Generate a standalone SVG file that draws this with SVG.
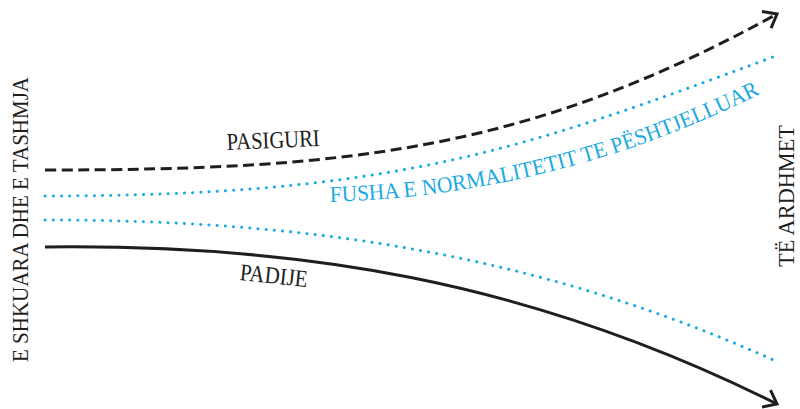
<svg xmlns="http://www.w3.org/2000/svg" width="800" height="409" viewBox="0 0 800 409">
  <defs>
    <style>
      .blk { fill: none; stroke: #1e1e1e; stroke-width: 3; }
      .dash { stroke-dasharray: 11 5.5; }
      .dot { fill: none; stroke: #1aa9e2; stroke-width: 3; stroke-linecap: round; stroke-dasharray: 0.1 8.1; }
      .lbl { font-family: "Liberation Serif", "Times New Roman", serif; font-size: 24px; fill: #1e1e1e; }
      .blue { font-family: "Liberation Serif", "Times New Roman", serif; font-size: 22.5px; fill: #1aa9e2; }
    </style>
    <marker id="arrow" markerUnits="userSpaceOnUse" markerWidth="30" markerHeight="30" viewBox="-20 -15 30 30" refX="0" refY="0" orient="auto">
      <path d="M-12,-9.5 L0,0 L-12,9.5" fill="none" stroke="#1e1e1e" stroke-width="3" stroke-dasharray="none" stroke-linejoin="miter"/>
    </marker>
    <path id="fushaPath" d="M330,202 Q558,195 762,93"/>
  </defs>
  <rect width="800" height="409" fill="#ffffff"/>

  <g id="connectors">
    <path id="pasiguri-line" class="blk dash" d="M45,170 C345,170 527,151.5 777,14" marker-end="url(#arrow)"/>
    <path id="normal-upper" class="dot" d="M45,196 C395,196 523,149.5 773,57"/>
    <path id="normal-lower" class="dot" d="M45,220 C295,220 528,249.5 778,362"/>
    <path id="padije-line" class="blk" d="M45,247 C295,244 527,279 777,404" marker-end="url(#arrow)"/>
  </g>

  <g id="label-past">
    <text class="lbl" transform="translate(27.5,219.5) rotate(-90)" text-anchor="middle" textLength="285" lengthAdjust="spacingAndGlyphs">E SHKUARA DHE E TASHMJA</text>
  </g>
  <g id="label-future">
    <text class="lbl" transform="translate(794,196) rotate(-90)" text-anchor="middle" textLength="142" lengthAdjust="spacingAndGlyphs">TË ARDHMET</text>
  </g>
  <g id="label-pasiguri">
    <text class="lbl" transform="translate(273.5,148) rotate(-2.5)" text-anchor="middle" textLength="93" lengthAdjust="spacingAndGlyphs">PASIGURI</text>
  </g>
  <g id="label-padije">
    <text class="lbl" transform="translate(273,283.5) rotate(6)" text-anchor="middle" textLength="68" lengthAdjust="spacingAndGlyphs">PADIJE</text>
  </g>
  <g id="label-fusha">
    <text class="blue"><textPath href="#fushaPath" textLength="447" lengthAdjust="spacingAndGlyphs">FUSHA E NORMALITETIT TE PËSHTJELLUAR</textPath></text>
  </g>
</svg>
